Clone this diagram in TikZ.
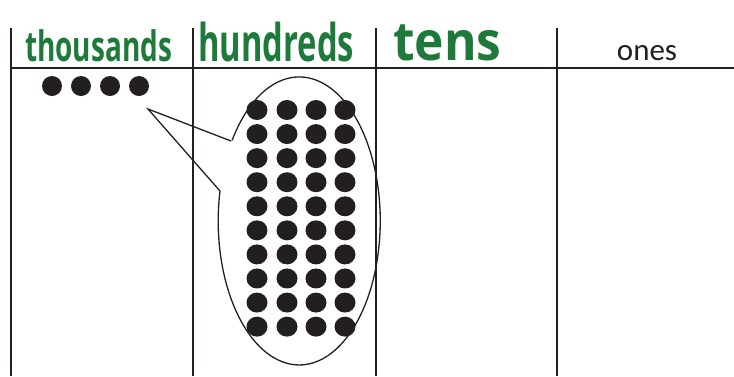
\documentclass[tikz,border=0pt]{standalone}
\usepackage{fontspec}
\setmainfont{Carlito}
\newfontfamily\handfont{Open Sans}
\definecolor{ink}{RGB}{35,31,32}
\definecolor{marker}{RGB}{30,122,58}
\tikzset{
  gridline/.style={draw=ink, line width=1.8pt},
  callout/.style={draw=ink, line width=1.3pt},
  dot/.style={fill=ink},
  hdr/.style={text=marker, font=\handfont\bfseries, inner sep=0pt, anchor=base west},
  onesfont/.style={text=ink, font=\fontsize{31}{34}\selectfont, inner sep=0pt, anchor=base},
}
\begin{document}
\begin{tikzpicture}[x=1pt,y=-1pt]
\useasboundingbox (0,0) rectangle (734,376);
% grid
\coordinate (v1t) at (11,28);  \coordinate (v1b) at (11,376);
\coordinate (v2t) at (193,28); \coordinate (v2b) at (193,376);
\coordinate (v3t) at (376,28); \coordinate (v3b) at (376,376);
\coordinate (v4t) at (557,28); \coordinate (v4b) at (557,376);
\coordinate (hl) at (11,68);   \coordinate (hr) at (734,68);
\draw[gridline] (v1t) -- (v1b);
\draw[gridline] (v2t) -- (v2b);
\draw[gridline] (v3t) -- (v3b);
\draw[gridline] (v4t) -- (v4b);
\draw[gridline] (hl) -- (hr);
% headers
\node[hdr] (thousands) at (25,61) {\fontsize{42}{46}\selectfont\scalebox{0.665}[1]{thousands}};
\node[hdr] (hundreds) at (198,61) {\fontsize{52}{56}\selectfont\scalebox{0.63}[1]{hundreds}};
\node[hdr] (tens) at (393,60) {\fontsize{54}{58}\selectfont\scalebox{0.92}[1]{tens}};
\node[onesfont] (ones) at (647,60) {ones};
% callout
\coordinate (tip) at (148,109);
\coordinate (ta) at (231,141);
\coordinate (tb) at (220,191);
\draw[callout] (ta) -- (tip) -- (tb) arc[start angle=168, end angle=506, x radius=81pt, y radius=144pt];
% thousands dots
\foreach \x in {52,81,110,139} \fill[dot] (\x,86) circle[radius=10pt];
% hundreds dots
\foreach \i in {0,...,9} {
  \foreach \x in {257,287,316,345} {
    \fill[dot] (\x,{110+24.07*\i}) ellipse[x radius=10.5pt, y radius=10pt];
  }
}
\end{tikzpicture}
\end{document}
